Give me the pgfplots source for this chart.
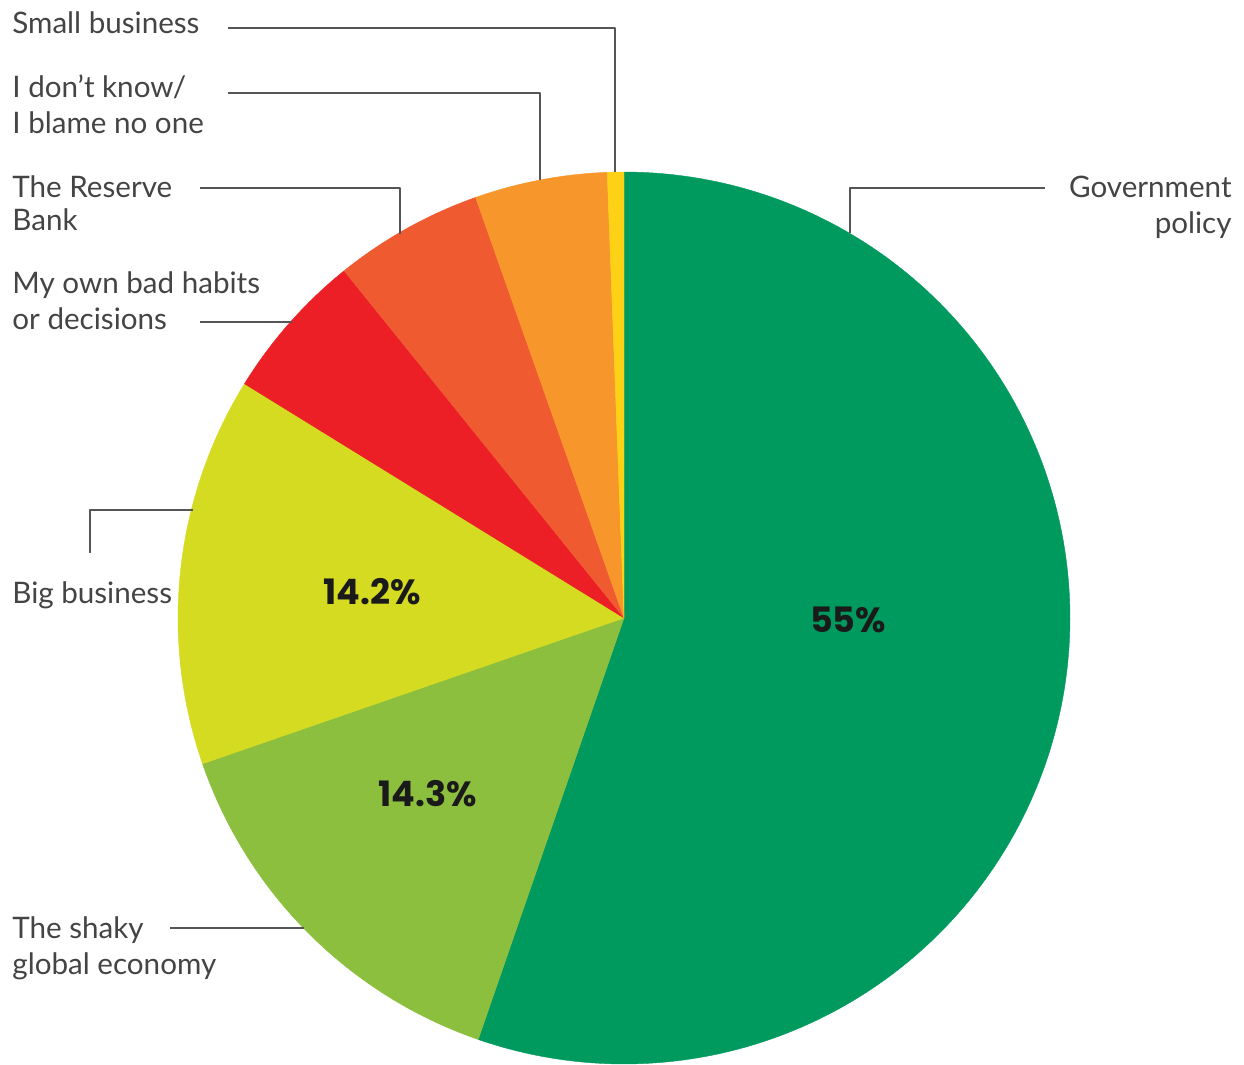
\documentclass[border=0pt]{standalone}
\usepackage{pgfplots}
\pgfplotsset{compat=1.18}
\usepackage{fontspec}
\setmainfont{Lato}
\newfontfamily\pctfont{Poppins}
\definecolor{cGov}{RGB}{0,153,94}
\definecolor{cShaky}{RGB}{141,191,63}
\definecolor{cBig}{RGB}{212,219,32}
\definecolor{cHabits}{RGB}{236,31,38}
\definecolor{cRes}{RGB}{240,90,48}
\definecolor{cDK}{RGB}{247,150,43}
\definecolor{cSmall}{RGB}{253,209,22}
\definecolor{cLine}{RGB}{85,85,85}
\definecolor{cLab}{RGB}{68,68,68}
\definecolor{cPct}{RGB}{26,26,26}
% slice values (percent), clockwise from 12 o'clock
\def\vGov{55.3}
\def\vShaky{14.4}
\def\vBig{14.1}
\def\vHabits{5.4}
\def\vRes{5.4}
\def\vDK{4.8}
\def\vSmall{0.6}
\pgfmathsetmacro\aA{90}
\pgfmathsetmacro\aB{\aA-3.6*\vGov}
\pgfmathsetmacro\aC{\aB-3.6*\vShaky}
\pgfmathsetmacro\aD{\aC-3.6*\vBig}
\pgfmathsetmacro\aE{\aD-3.6*\vHabits}
\pgfmathsetmacro\aF{\aE-3.6*\vRes}
\pgfmathsetmacro\aG{\aF-3.6*\vDK}
\pgfmathsetmacro\aH{\aG-3.6*\vSmall}
\begin{document}
\begin{tikzpicture}
\begin{axis}[hide axis, scale only axis, width=622pt, height=532pt,
  xmin=0, xmax=1244, ymin=0, ymax=1064, clip=false,
  every axis plot/.append style={line join=round}]
\path (axis cs:0,0) rectangle (axis cs:1244,1064);
\addplot[fill=cGov, draw=cGov, line width=0.2pt, domain=\aB:\aA, samples=160] ({624+446*cos(x)},{446+446*sin(x)}) -- (axis cs:624,446) -- cycle;
\addplot[fill=cShaky, draw=cShaky, line width=0.2pt, domain=\aC:\aB, samples=60] ({624+446*cos(x)},{446+446*sin(x)}) -- (axis cs:624,446) -- cycle;
\addplot[fill=cBig, draw=cBig, line width=0.2pt, domain=\aD:\aC, samples=60] ({624+446*cos(x)},{446+446*sin(x)}) -- (axis cs:624,446) -- cycle;
\addplot[fill=cHabits, draw=cHabits, line width=0.2pt, domain=\aE:\aD, samples=30] ({624+446*cos(x)},{446+446*sin(x)}) -- (axis cs:624,446) -- cycle;
\addplot[fill=cRes, draw=cRes, line width=0.2pt, domain=\aF:\aE, samples=30] ({624+446*cos(x)},{446+446*sin(x)}) -- (axis cs:624,446) -- cycle;
\addplot[fill=cDK, draw=cDK, line width=0.2pt, domain=\aG:\aF, samples=30] ({624+446*cos(x)},{446+446*sin(x)}) -- (axis cs:624,446) -- cycle;
\addplot[fill=cSmall, draw=cSmall, line width=0.2pt, domain=\aH:\aG, samples=10] ({624+446*cos(x)},{446+446*sin(x)}) -- (axis cs:624,446) -- cycle;
% leader lines
\addplot[cLine, line width=1pt, mark=none] coordinates {(228,1036) (615,1036) (615,892)};
\addplot[cLine, line width=1pt, mark=none] coordinates {(228,971) (540,971) (540,884)};
\addplot[cLine, line width=1pt, mark=none] coordinates {(200,876) (400,876) (400,830)};
\addplot[cLine, line width=1pt, mark=none] coordinates {(200,742) (292,742)};
\addplot[cLine, line width=1pt, mark=none] coordinates {(90,511) (90,554) (193,554)};
\addplot[cLine, line width=1pt, mark=none] coordinates {(170,136) (304,136)};
\addplot[cLine, line width=1pt, mark=none] coordinates {(1045,876) (850,876) (850,831)};
% labels
\begin{scope}[every node/.style={font=\fontsize{14.8}{17}\selectfont, text=cLab, inner sep=0pt}]
\node[anchor=base west] at (axis cs:12,1030) {Small business};
\node[anchor=base west] at (axis cs:12,966) {I don't know/};
\node[anchor=base west] at (axis cs:12,930) {I blame no one};
\node[anchor=base west] at (axis cs:12,866) {The Reserve};
\node[anchor=base west] at (axis cs:12,833) {Bank};
\node[anchor=base west] at (axis cs:12,770) {My own bad habits};
\node[anchor=base west] at (axis cs:12,734) {or decisions};
\node[anchor=base west] at (axis cs:12,460) {Big business};
\node[anchor=base west] at (axis cs:12,126) {The shaky};
\node[anchor=base west] at (axis cs:12,90) {global economy};
\node[anchor=base east] at (axis cs:1232,866) {Government};
\node[anchor=base east] at (axis cs:1232,830) {policy};
\end{scope}
\begin{scope}[every node/.style={font=\pctfont\fontsize{17.5}{20}\selectfont\bfseries, text=cPct, inner sep=0pt}]
\node at (axis cs:372,472) {14.2\%};
\node at (axis cs:428,270) {14.3\%};
\node at (axis cs:848,444) {55\%};
\end{scope}
\end{axis}
\end{tikzpicture}
\end{document}
